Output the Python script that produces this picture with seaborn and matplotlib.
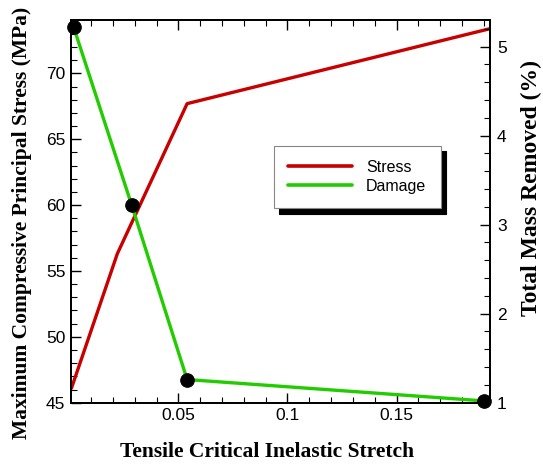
import numpy as np
import pandas as pd
import matplotlib
matplotlib.use("Agg")
import matplotlib.pyplot as plt
from matplotlib.ticker import MultipleLocator
from matplotlib.lines import Line2D
import seaborn as sns

# values
stretch_stress = [0.001, 0.022, 0.054, 0.193]
stress_mpa = [46.1, 56.3, 67.7, 73.4]

stretch_damage = [0.002, 0.0286, 0.054, 0.19]
mass_removed = [5.22, 3.22, 1.26, 1.02]

RED = "#c80000"
GREEN = "#22cc00"

sns.set_style("ticks")
plt.rcParams["font.family"] = ["Liberation Sans", "DejaVu Sans"]
plt.rcParams.update({"text.color": "black", "axes.labelcolor": "black",
                     "xtick.color": "black", "ytick.color": "black"})

fig = plt.figure(figsize=(5.43, 4.65), dpi=100)
ax = fig.add_axes([0.1308, 0.134, 0.7716, 0.823])
ax2 = ax.twinx()

stress_df = pd.DataFrame({"x": stretch_stress, "y": stress_mpa})
damage_df = pd.DataFrame({"x": stretch_damage, "y": mass_removed})

sns.lineplot(data=stress_df, x="x", y="y", ax=ax, color=RED, lw=2.4,
             sort=False, legend=False)
sns.lineplot(data=damage_df, x="x", y="y", ax=ax2, color=GREEN, lw=2.4,
             sort=False, legend=False)
sns.scatterplot(data=damage_df, x="x", y="y", ax=ax2, color="black", s=95,
                edgecolor="black", zorder=5, clip_on=False, legend=False)

ax.set_xlim(0.0008, 0.1928)
ax.set_ylim(45, 74.05)
ax2.set_ylim(1, 5.3)

ax.xaxis.set_major_locator(MultipleLocator(0.05))
ax.xaxis.set_minor_locator(MultipleLocator(0.01))
ax.yaxis.set_major_locator(MultipleLocator(5))
ax.yaxis.set_minor_locator(MultipleLocator(1))
ax2.yaxis.set_major_locator(MultipleLocator(1))
ax2.yaxis.set_minor_locator(MultipleLocator(0.2))
ax.set_xticks([0.05, 0.1, 0.15])
ax.set_xticklabels(["0.05", "0.1", "0.15"])

for a in (ax, ax2):
    for s in a.spines.values():
        s.set_visible(True)
        s.set_linewidth(1.3)
        s.set_color("black")

ax.tick_params(axis="both", which="major", direction="in", length=7, width=1,
               labelsize=12.5, top=True, right=False, pad=4)
ax.tick_params(axis="both", which="minor", direction="in", length=4, width=0.8,
               top=True, right=False)
ax2.tick_params(axis="y", which="major", direction="in", length=7, width=1,
                labelsize=12.5, pad=5)
ax2.tick_params(axis="y", which="minor", direction="in", length=4, width=0.8)

label_font = dict(family="Liberation Serif", weight="bold", size=15.5)
ax.set_xlabel("Tensile Critical Inelastic Stretch", va="center", **label_font)
ax.set_ylabel("Maximum Compressive Principal Stress (MPa)", va="center", **label_font)
ax2.set_ylabel("Total Mass Removed (%)", va="center",
               family="Liberation Serif", weight="bold", size=17)
ax.xaxis.set_label_coords(0.467, -0.129)
ax.yaxis.set_label_coords(-0.117, 0.47)
ax2.yaxis.set_label_coords(1.1, 0.562)

handles = [Line2D([], [], color=RED, lw=2.6), Line2D([], [], color=GREEN, lw=2.6)]
leg = ax2.legend(handles, ["Stress", "Damage"], loc="center",
                 bbox_to_anchor=(0.683, 0.59), fancybox=False,
                 shadow={"color": "black", "alpha": 1, "ox": 4, "oy": -4},
                 framealpha=1, edgecolor="#888888", fontsize=11.5,
                 handlelength=4.0, handletextpad=0.9, borderpad=0.9,
                 labelspacing=0.25)
leg.get_frame().set_linewidth(0.8)

fig.savefig("out.png", dpi=100)
